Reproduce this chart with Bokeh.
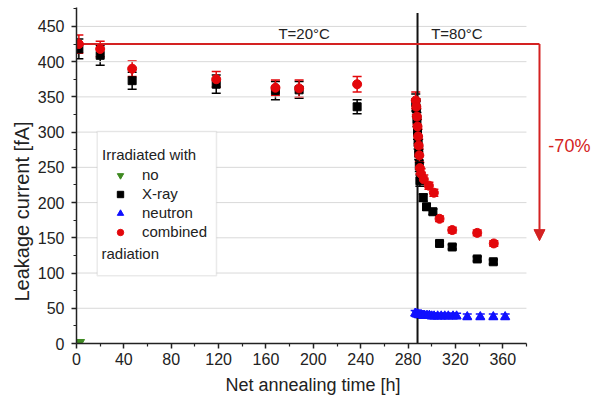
from bokeh.plotting import figure
from bokeh.models import (ColumnDataSource, Whisker, TeeHead, FixedTicker, Legend, LegendItem,
                          BoxAnnotation, Arrow, NormalHead, Range1d, Label, Title)
from bokeh.core.properties import value
from bokeh.embed import file_html
from bokeh.resources import INLINE

# ---------------- data ----------------
no_t = [3]
no_v = [2]

xray_t = [2, 20, 47, 118, 168, 188, 237, 286.5, 287, 287.5, 288, 288.5, 289, 289.5, 290,
          292.8, 295.6, 301, 306.6, 317.3, 338.4, 352]
xray_v = [418, 409, 373, 368, 359, 360, 336, 342, 333, 318, 300, 285, 270, 252, 231,
          207, 194, 187, 142, 137, 120, 116]
xray_err = [14, 14, 12, 13, 13, 12, 10, 12, 11, 10, 10, 9, 9, 8, 8,
            5, 5, 4, 3, 3, 3, 3]

comb_t = [2, 20, 47, 118, 168, 188, 237, 286.5, 287, 287.5, 288, 288.5, 289, 289.5, 290,
          291, 293.3, 297.6, 301.8, 306.6, 317.3, 338.4, 352.4]
comb_v = [425, 418, 390, 375, 363, 362, 368, 345, 336, 322, 308, 294, 281, 267, 249,
          241, 233, 224, 214, 177, 161, 157, 142]
comb_err = [13, 11, 11, 11, 11, 12, 11, 12, 11, 11, 10, 10, 9, 9, 8,
            7, 6, 5, 5, 4, 4, 4, 4]

neut_t = [286, 287, 288, 289, 290, 291, 292, 293, 294, 296, 298, 300, 302, 305, 308, 311,
          314, 318, 321, 330, 341, 352, 362]
neut_v = [43, 42, 42, 41, 41, 41, 40, 40, 40, 40, 40, 39, 39, 39, 39, 39,
          39, 39, 39, 38, 38, 38, 38]
neut_err = [4, 4, 4, 4, 4, 4, 4, 4, 4, 4, 4, 4, 4, 4, 4, 4,
            4, 4, 4, 4, 4, 4, 4]

x_major = [0, 40, 80, 120, 160, 200, 240, 280, 320, 360]
x_minor = [20, 60, 100, 140, 180, 220, 260, 300, 340, 380]
y_major = [0, 50, 100, 150, 200, 250, 300, 350, 400, 450]
y_minor = [25, 75, 125, 175, 225, 275, 325, 375, 425, 475]
grid_levels = [50, 100, 150, 200, 250, 300, 350, 400, 450]

switch_t = 288          # change of annealing temperature
ref_level = 425         # initial leakage reference
drop_end = 146          # end of the -70 % arrow
arrow_t = 391

FONT = "Liberation Sans"
RED_M = "#e3070b"
RED_A = "#d42222"
TXT = "#222222"

p = figure(width=595, height=400, output_backend="svg", toolbar_location=None,
           x_range=Range1d(0, 438.3), y_range=Range1d(0, 486.8),
           min_border_left=76, min_border_right=0, min_border_top=0, min_border_bottom=57)
p.outline_line_color = None
p.xgrid.visible = False
p.ygrid.visible = False

# gridlines limited to the axis extent
p.segment(x0=[0] * len(grid_levels), x1=[380] * len(grid_levels), y0=grid_levels, y1=grid_levels,
          line_color="#d9d9d9", line_width=1)

# axes
for ax in (p.xaxis[0], p.yaxis[0]):
    ax.axis_line_width = 1.5
    ax.axis_line_color = TXT
    ax.major_tick_line_color = TXT
    ax.minor_tick_line_color = TXT
    ax.major_tick_line_width = 1.5
    ax.minor_tick_line_width = 1.2
    ax.major_tick_in = 0
    ax.major_tick_out = 5
    ax.minor_tick_in = 0
    ax.minor_tick_out = 3
    ax.major_label_text_font = FONT
    ax.major_label_text_font_size = "16px"
    ax.major_label_text_color = TXT

p.xaxis[0].ticker = FixedTicker(ticks=x_major, minor_ticks=x_minor)
p.yaxis[0].ticker = FixedTicker(ticks=y_major, minor_ticks=y_minor)
p.xaxis[0].bounds = (0, 380)
p.yaxis[0].bounds = (0, 477)
p.xaxis[0].major_label_standoff = 4
p.yaxis[0].major_label_standoff = 7

# axis titles (placed as side-panel titles so they can be positioned like the original)
p.add_layout(Title(text="Net annealing time [h]", align="left", offset=149,
                   text_font=FONT, text_font_size="18px", text_font_style="normal",
                   text_color=TXT, standoff=10), "below")
p.add_layout(Title(text="Leakage current [fA]", align="left", offset=42,
                   text_font=FONT, text_font_size="20px", text_font_style="normal",
                   text_color=TXT, standoff=4), "left")

# temperature switch line
p.segment(x0=[switch_t], x1=[switch_t], y0=[0], y1=[469], line_color="#111111", line_width=2)

# red reference line and arrow
p.line(x=[0, arrow_t], y=[ref_level, ref_level], line_color=RED_A, line_width=2)
p.add_layout(Arrow(x_start=arrow_t, y_start=ref_level, x_end=arrow_t, y_end=drop_end,
                   line_color=RED_A, line_width=2,
                   end=NormalHead(size=11, fill_color=RED_A, line_color=RED_A)))

# data
src_c = ColumnDataSource(dict(t=comb_t, v=comb_v, lo=[a - b for a, b in zip(comb_v, comb_err)],
                              hi=[a + b for a, b in zip(comb_v, comb_err)]))
src_x = ColumnDataSource(dict(t=xray_t, v=xray_v, lo=[a - b for a, b in zip(xray_v, xray_err)],
                              hi=[a + b for a, b in zip(xray_v, xray_err)]))
src_n = ColumnDataSource(dict(t=neut_t, v=neut_v, lo=[a - b for a, b in zip(neut_v, neut_err)],
                              hi=[a + b for a, b in zip(neut_v, neut_err)]))

for src, col in ((src_x, "#000000"), (src_c, RED_M), (src_n, "#1010ff")):
    p.add_layout(Whisker(source=src, base="t", upper="hi", lower="lo", dimension="height",
                         line_color=col, line_width=1.5,
                         upper_head=TeeHead(size=9, line_color=col, line_width=1.5),
                         lower_head=TeeHead(size=9, line_color=col, line_width=1.5)))

r_x = p.scatter("t", "v", source=src_x, marker="square", size=8, color="#000000")
r_c = p.scatter("t", "v", source=src_c, marker="circle", size=9, color=RED_M)
r_n = p.scatter("t", "v", source=src_n, marker="triangle", size=9, color="#1010ff")
r_no = p.scatter(no_t, no_v, marker="inverted_triangle", size=9, color="#3f8a22")

# texts
p.text(x=[170.5, 299.5], y=[440, 440], text=["T=20°C", "T=80°C"], text_font=value(FONT),
       text_font_size="15px", text_baseline="middle", text_align="left", text_color=TXT)
p.text(x=[398.5], y=[281], text=["-70%"], text_font=value(FONT), text_font_size="18px",
       text_baseline="middle", text_align="left", text_color=RED_A)

# legend box
p.add_layout(BoxAnnotation(left=17.5, right=118.2, top=301, bottom=96.2,
                           fill_color="white", fill_alpha=1, line_color="#bbbbbb", line_width=1.5,
                           level="annotation"))
legend = Legend(items=[LegendItem(label="no", renderers=[r_no]),
                       LegendItem(label="X-ray", renderers=[r_x]),
                       LegendItem(label="neutron", renderers=[r_n]),
                       LegendItem(label="combined", renderers=[r_c])],
                title="Irradiated with", location=(26, 103), padding=0, margin=0,
                border_line_color=None, background_fill_alpha=0,
                label_text_font=FONT, label_text_font_size="15px", label_text_color=TXT,
                title_text_font=FONT, title_text_font_size="15px", title_text_color=TXT,
                title_text_font_style="normal", title_standoff=3,
                glyph_width=36, glyph_height=16, label_height=16, spacing=2, label_standoff=4)
p.add_layout(legend, "center")
p.add_layout(Label(x=21.1, y=127.4, text="radiation", text_font=FONT, text_font_size="15px",
                   text_baseline="middle", text_align="left", text_color=TXT))

open("out.html", "w").write(file_html(p, INLINE))
